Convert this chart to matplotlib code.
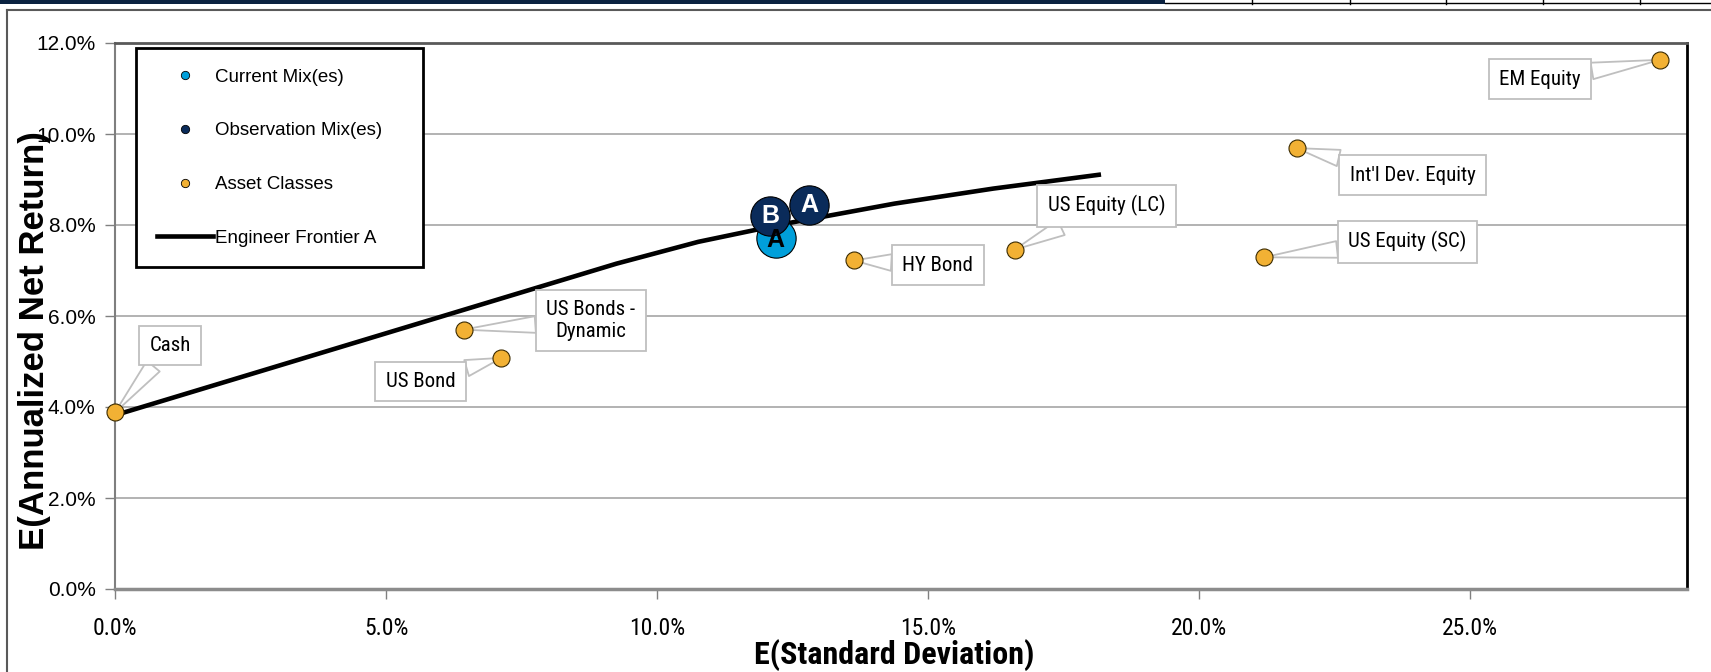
import matplotlib
matplotlib.use("Agg")
import matplotlib.pyplot as plt
from matplotlib.lines import Line2D
from matplotlib.patches import Rectangle
from matplotlib.ticker import FuncFormatter

# asset classes (std dev %, return %)
asset_names = ["Cash", "US Bonds -\nDynamic", "US Bond", "HY Bond", "US Equity (LC)",
               "US Equity (SC)", "Int'l Dev. Equity", "EM Equity"]
asset_sd = [0.0, 6.43, 7.13, 13.63, 16.6, 21.2, 21.8, 28.5]
asset_ret = [3.88, 5.70, 5.08, 7.22, 7.46, 7.29, 9.69, 11.63]
label_sd = [1.02, 8.78, 5.64, 15.18, 18.29, 23.84, 23.94, 26.29]
label_ret = [5.35, 5.90, 4.56, 7.12, 8.42, 7.63, 9.09, 11.2]

# mixes
current_names = ["A"]
current_sd = [12.19]
current_ret = [7.72]
obs_names = ["B", "A"]
obs_sd = [12.09, 12.81]
obs_ret = [8.20, 8.44]

# engineer frontier A
front_sd = [0.0, 2.5, 5.0, 7.5, 9.25, 10.76, 12.37, 14.38, 16.2, 18.19]
front_ret = [3.82, 4.72, 5.62, 6.52, 7.15, 7.63, 8.03, 8.47, 8.80, 9.11]

ORANGE = "#F2B134"
LBLUE = "#009FDA"
NAVY = "#0A2B5A"
REG = ["Liberation Sans", "DejaVu Sans"]
NARROW = ["Roboto Condensed", "Archivo Narrow", "Liberation Sans", "DejaVu Sans"]

fig = plt.figure(figsize=(17.11, 6.72), dpi=100)
ax = fig.add_axes([115 / 1711, 1 - 589 / 672, 1572 / 1711, 546 / 672])

ax.set_xlim(0, 29)
ax.set_ylim(0, 12)
ax.set_yticks([0, 2, 4, 6, 8, 10, 12])
ax.set_xticks([0, 5, 10, 15, 20, 25])
pct = FuncFormatter(lambda v, p: f"{v:.1f}%")
ax.xaxis.set_major_formatter(pct)
ax.yaxis.set_major_formatter(pct)
for lab in ax.get_yticklabels():
    lab.set_family(REG)
    lab.set_fontsize(15)
for lab in ax.get_xticklabels():
    lab.set_family(NARROW)
    lab.set_fontsize(17)
ax.tick_params(axis="both", colors="#808080", labelcolor="black", length=7, width=1)
ax.tick_params(axis="y", pad=7)
ax.tick_params(axis="x", pad=13)

for y in [2, 4, 6, 8, 10]:
    ax.axhline(y, color="#A6A6A6", lw=1.2, zorder=0)
ax.spines["left"].set_color("#7F7F7F")
ax.spines["left"].set_linewidth(1.5)
ax.spines["bottom"].set_color("#8C8C8C")
ax.spines["bottom"].set_linewidth(2.5)
ax.spines["top"].set_color("#595959")
ax.spines["top"].set_linewidth(2)
ax.spines["right"].set_color("black")
ax.spines["right"].set_linewidth(2)

ax.plot(front_sd, front_ret, color="black", lw=3.3, zorder=2, solid_capstyle="butt")

# callouts
for name, x, y, tx, ty in zip(asset_names, asset_sd, asset_ret, label_sd, label_ret):
    ax.annotate(name, xy=(x, y), xytext=(tx, ty), ha="center", va="center",
                fontsize=15, family=NARROW, linespacing=1.15,
                bbox=dict(boxstyle="square,pad=0.5", fc="white", ec="#BFBFBF", lw=1.3),
                arrowprops=dict(arrowstyle="wedge,tail_width=0.8", fc="white", ec="#BFBFBF",
                                lw=1.3, shrinkA=0, shrinkB=0), zorder=3)

ax.scatter(asset_sd, asset_ret, s=150, color=ORANGE, edgecolor="#3A2A00", lw=0.8,
           zorder=5, clip_on=False)
ax.scatter(current_sd, current_ret, s=800, color=LBLUE, edgecolor="black", lw=0.8, zorder=4)
for n, x, y in zip(current_names, current_sd, current_ret):
    ax.text(x, y - 0.05, n, ha="center", va="center", fontsize=18, fontweight="bold",
            family=REG, color="black", zorder=6)
ax.scatter(obs_sd, obs_ret, s=800, color=NAVY, edgecolor="black", lw=0.8, zorder=5)
for n, x, y in zip(obs_names, obs_sd, obs_ret):
    ax.text(x, y, n, ha="center", va="center", fontsize=18, fontweight="bold",
            family=REG, color="white", zorder=6)

ax.set_xlabel("E(Standard Deviation)", fontsize=23, fontweight="bold", family=NARROW,
              va="center")
ax.xaxis.set_label_coords((894 - 115) / 1572, -(655 - 589) / 546)
ax.set_ylabel("E(Annualized Net Return)", fontsize=25, fontweight="bold", family=REG,
              va="center")
ax.yaxis.set_label_coords(-(115 - 35) / 1572, (589 - 341) / 546)

handles = [
    Line2D([], [], ls="none", marker="o", ms=6, mfc=LBLUE, mec="black", mew=0.6),
    Line2D([], [], ls="none", marker="o", ms=6, mfc=NAVY, mec="black", mew=0.6),
    Line2D([], [], ls="none", marker="o", ms=6, mfc=ORANGE, mec="black", mew=0.6),
    Line2D([], [], color="black", lw=3.3),
]
labels = ["Current Mix(es)", "Observation Mix(es)", "Asset Classes", "Engineer Frontier A"]
leg = ax.legend(handles, labels, loc="upper left", mode="expand",
                bbox_to_anchor=((136 - 115) / 1572, (589 - 265) / 546,
                                (423 - 136) / 1572, (265 - 48) / 546),
                prop={"family": REG, "size": 13.5}, labelspacing=1.95, handlelength=3.0,
                handletextpad=0.1, borderpad=1.1, borderaxespad=0, fancybox=False,
                framealpha=1, edgecolor="black")
leg.get_frame().set_linewidth(2)

# slide frame remnants
fig.add_artist(Rectangle((0, 1 - 4 / 672), 1165 / 1711, 4 / 672, transform=fig.transFigure,
                         color="#0A2240", lw=0))
fig.add_artist(Line2D([1165 / 1711, 1], [1 - 3 / 672, 1 - 3 / 672], transform=fig.transFigure,
                      color="black", lw=1))
for xs in [1252, 1350, 1446, 1543, 1640]:
    fig.add_artist(Line2D([xs / 1711, xs / 1711], [1 - 4 / 672, 1], transform=fig.transFigure,
                          color="black", lw=1))
fig.add_artist(Line2D([7 / 1711, 1], [1 - 10 / 672, 1 - 10 / 672], transform=fig.transFigure,
                      color="#595959", lw=1.5))
fig.add_artist(Line2D([7 / 1711, 7 / 1711], [0, 1 - 10 / 672], transform=fig.transFigure,
                      color="#595959", lw=1.5))

fig.savefig("out.png", dpi=100)
